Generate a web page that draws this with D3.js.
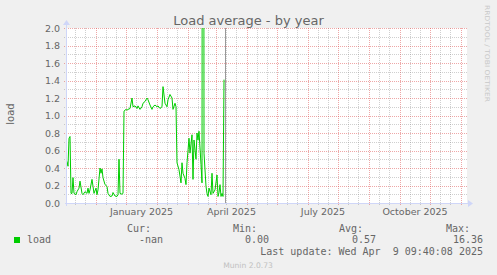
<!DOCTYPE html>
<html><head><meta charset="utf-8">
<script src="https://cdn.jsdelivr.net/npm/d3@7"></script>
<style>html,body{margin:0;padding:0;background:#F0F0F0;overflow:hidden}</style>
</head><body>
<svg id="c" width="497" height="275"></svg>
<script>
// ---------------- data ----------------
const dates = [
"2024-10-03","2024-10-04","2024-10-05","2024-10-06","2024-10-07","2024-10-08","2024-10-09","2024-10-10",
"2024-10-12","2024-10-13","2024-10-15","2024-10-16","2024-10-18","2024-10-19","2024-10-21","2024-10-23",
"2024-10-24","2024-10-25","2024-10-26","2024-10-28","2024-10-29","2024-10-30","2024-11-01","2024-11-02",
"2024-11-03","2024-11-05","2024-11-06","2024-11-07","2024-11-08","2024-11-10","2024-11-12","2024-11-13",
"2024-11-15","2024-11-17","2024-11-18","2024-11-20","2024-11-22","2024-11-23","2024-11-24","2024-11-25",
"2024-11-27","2024-11-28","2024-11-29","2024-12-01","2024-12-02","2024-12-03","2024-12-05","2024-12-07",
"2024-12-08","2024-12-10","2024-12-12","2024-12-13","2024-12-15","2024-12-17","2024-12-18","2024-12-20",
"2024-12-22","2024-12-23","2024-12-25","2024-12-27","2024-12-28","2024-12-30","2025-01-01","2025-01-02",
"2025-01-04","2025-01-06","2025-01-07","2025-01-09","2025-01-11","2025-01-12","2025-01-14","2025-01-16",
"2025-01-17","2025-01-19","2025-01-20","2025-01-21","2025-01-23","2025-01-25","2025-01-26","2025-01-27",
"2025-01-29","2025-01-30","2025-01-31","2025-02-02","2025-02-03","2025-02-05","2025-02-06","2025-02-07",
"2025-02-09","2025-02-10","2025-02-11","2025-02-12","2025-02-14","2025-02-15","2025-02-16","2025-02-17",
"2025-02-19","2025-02-20","2025-02-21","2025-02-22","2025-02-24","2025-02-25","2025-02-26","2025-02-28",
"2025-03-02","2025-03-03","2025-03-04","2025-03-05","2025-03-06","2025-03-07","2025-03-08","2025-03-09"
];
const loadValues = [
0.475,0.42,0.74,0.76,0.11,0.11,0.29,0.11,
0.095,0.13,0.17,0.25,0.11,0.095,0.13,0.11,
0.17,0.11,0.15,0.27,0.19,0.11,0.17,0.095,
0.15,0.40,0.34,0.39,0.29,0.21,0.19,0.11,
0.075,0.08,0.12,0.08,0.075,0.095,0.50,0.11,
0.10,0.11,1.05,1.07,1.06,1.07,1.08,1.20,
1.10,1.11,1.08,1.11,1.07,1.10,1.14,1.16,
1.20,1.18,1.12,1.07,1.10,1.12,1.10,1.11,
1.08,1.10,1.33,1.14,1.10,1.18,1.24,1.20,
1.07,1.14,1.10,0.46,0.38,0.23,0.46,0.34,
0.28,0.21,0.46,0.74,0.57,0.78,0.27,0.72,
0.50,0.80,0.72,0.82,0.44,0.23,16.36,0.57,
0.19,0.11,0.075,0.17,0.095,0.34,0.11,0.15,
0.32,0.075,0.12,0.21,0.075,0.11,0.075,1.41
];
const timeDomain = ["2024-10-03","2025-11-07"];
const ruleDate = ["2025-03-10T12:00"];
const yMajorTicks = [0,0.2,0.4,0.6,0.8,1.0,1.2,1.4,1.6,1.8,2.0];
const yMinorTicks = [0.1,0.3,0.5,0.7,0.9,1.1,1.3,1.5,1.7,1.9];
const xLabelMonths = ["2025-01-01","2025-04-01","2025-07-01","2025-10-01"];
const xLabels = ["January 2025","April 2025","July 2025","October 2025"];
const minorDayOffsets = [10,20];
const seriesName = "load";
const legendHeaders = ["Cur:","Min:","Avg:","Max:"];
const legendValues = ["-nan","0.00","0.57","16.36"];
const lastUpdate = "Last update: Wed Apr  9 09:40:08 2025";
const titleText = "Load average - by year";
const yTitle = "load";
const credit = "RRDTOOL / TOBI OETIKER";
const version = "Munin 2.0.73";

// ---------------- chart ----------------
const W = 497, H = 275;
const L = 67, R = 467, T = 28, B = 203;
const FONT = "#666666";
const parseD = d3.timeParse("%Y-%m-%d");
const parseDT = d3.timeParse("%Y-%m-%dT%H:%M");
const svg = d3.select("#c");
svg.append("rect").attr("width", W).attr("height", H).attr("fill", "#F0F0F0");

const x = d3.scaleTime().domain(timeDomain.map(parseD)).range([L, R]);
const y = d3.scaleLinear().domain([0, 2]).range([B, T]);

svg.append("rect").attr("x", L).attr("y", T).attr("width", R - L).attr("height", B - T).attr("fill", "#FFFFFF");

const px = v => Math.round(v) + 0.5;
const gridG = svg.append("g");
const MINOR = "rgba(140,140,140,0.42)";
const MAJOR = "rgba(222,79,79,0.5)";

// minor vertical grid
const months = d3.timeMonth.range(d3.timeMonth.floor(x.domain()[0]), x.domain()[1]);
const minorDates = [];
months.forEach(m => minorDayOffsets.forEach(o => {
  const d = d3.timeDay.offset(m, o);
  if (d > x.domain()[0] && d < x.domain()[1]) minorDates.push(d);
}));
gridG.selectAll(".vmin").data(minorDates).join("line")
  .attr("x1", d => px(x(d))).attr("x2", d => px(x(d)))
  .attr("y1", T).attr("y2", B + 3)
  .attr("stroke", MINOR).attr("stroke-width", 1).attr("stroke-dasharray", "1,1");
// minor horizontal
gridG.selectAll(".hmin").data(yMinorTicks).join("line")
  .attr("x1", L - 3).attr("x2", R + 1)
  .attr("y1", d => px(y(d))).attr("y2", d => px(y(d)))
  .attr("stroke", MINOR).attr("stroke-width", 1).attr("stroke-dasharray", "1,1");
// major vertical
const majorDates = months.filter(d => d > x.domain()[0] && d < x.domain()[1]);
gridG.selectAll(".vmaj").data(majorDates).join("line")
  .attr("x1", d => px(x(d))).attr("x2", d => px(x(d)))
  .attr("y1", T).attr("y2", B + 3)
  .attr("stroke", MAJOR).attr("stroke-width", 1).attr("stroke-dasharray", "1,1");
// major horizontal
gridG.selectAll(".hmaj").data(yMajorTicks.filter(d => d > 0)).join("line")
  .attr("x1", L - 3).attr("x2", R + 1)
  .attr("y1", d => px(y(d))).attr("y2", d => px(y(d)))
  .attr("stroke", MAJOR).attr("stroke-width", 1).attr("stroke-dasharray", "1,1");

// y tick labels
svg.append("g").selectAll("text").data(yMajorTicks).join("text")
  .attr("x", 60).attr("y", d => y(d) + 3.5)
  .attr("text-anchor", "end")
  .attr("font-family", "DejaVu Sans").attr("font-size", "9.5px").attr("fill", FONT)
  .text(d3.format(".1f"));

// x labels: centered between previous month start and the labeled month start
svg.append("g").selectAll("text").data(xLabelMonths).join("text")
  .attr("x", (d, i) => { const m = parseD(d); return (x(d3.timeMonth.offset(m, -1)) + x(m)) / 2; })
  .attr("y", 215)
  .attr("text-anchor", "middle")
  .attr("font-family", "DejaVu Sans").attr("font-size", "9.5px").attr("fill", FONT)
  .text((d, i) => xLabels[i]);

// rule
svg.append("g").selectAll("line").data(ruleDate).join("line")
  .attr("x1", d => x(parseDT(d))).attr("x2", d => x(parseDT(d)))
  .attr("y1", T).attr("y2", B)
  .attr("stroke", "#999999").attr("stroke-width", 1);

// data line
svg.append("clipPath").attr("id", "clip").append("rect")
  .attr("x", L).attr("y", T).attr("width", R - L).attr("height", B - T);
const series = dates.map((d, i) => ({ t: parseD(d), v: loadValues[i] }));
const line = d3.line().x(d => x(d.t)).y(d => y(d.v));
svg.append("path").datum(series)
  .attr("clip-path", "url(#clip)")
  .attr("d", line).attr("fill", "none")
  .attr("stroke", "#00CC00").attr("stroke-width", 1);

// axes
const AX = "#CFD6F8";
svg.append("line").attr("x1", L - 2).attr("x2", R + 2).attr("y1", B + 0.5).attr("y2", B + 0.5).attr("stroke", AX);
svg.append("line").attr("x1", L - 0.5).attr("x2", L - 0.5).attr("y1", B + 3).attr("y2", T - 4).attr("stroke", AX);
svg.append("path").attr("d", `M${R + 1},${B - 3} L${R + 6},${B + 0.5} L${R + 1},${B + 4} Z`).attr("fill", AX);
svg.append("path").attr("d", `M${L - 4},${T - 3} L${L - 0.5},${T - 8} L${L + 3},${T - 3} Z`).attr("fill", AX);

// title
svg.append("text").attr("x", 248.5).attr("y", 25).attr("text-anchor", "middle")
  .attr("font-family", "DejaVu Sans").attr("font-size", "13px").attr("fill", FONT).text(titleText);
// y title
svg.append("text").attr("transform", "translate(14,114) rotate(-90)").attr("text-anchor", "middle")
  .attr("font-family", "DejaVu Sans").attr("font-size", "10px").attr("fill", FONT).text(yTitle);
// credit
svg.append("text").attr("transform", "translate(485,5) rotate(90)")
  .attr("font-family", "DejaVu Sans").attr("font-size", "6.5px").attr("fill", "#C8C8C8")
  .attr("textLength", 97).attr("lengthAdjust", "spacingAndGlyphs").text(credit);

// legend
const mono = "DejaVu Sans Mono";
const headerX = [151, 257, 363, 470];
const valueX = [163, 269, 376, 483];
svg.append("g").selectAll("text").data(legendHeaders).join("text")
  .attr("x", (d, i) => headerX[i]).attr("y", 231.5).attr("text-anchor", "end")
  .attr("font-family", mono).attr("font-size", "10px").attr("fill", FONT).text(d => d);
svg.append("rect").attr("x", 14).attr("y", 237).attr("width", 6).attr("height", 6).attr("fill", "#00CC00");
svg.append("text").attr("x", 27).attr("y", 243).attr("font-family", mono).attr("font-size", "10px").attr("fill", FONT).text(seriesName);
svg.append("g").selectAll("text").data(legendValues).join("text")
  .attr("x", (d, i) => valueX[i]).attr("y", 243).attr("text-anchor", "end")
  .attr("font-family", mono).attr("font-size", "10px").attr("fill", FONT).text(d => d);
svg.append("text").attr("x", 483).attr("y", 254.7).attr("text-anchor", "end").style("white-space", "pre")
  .attr("font-family", mono).attr("font-size", "10px").attr("fill", FONT).text(lastUpdate);
svg.append("text").attr("x", 248).attr("y", 267.5).attr("text-anchor", "middle")
  .attr("font-family", "DejaVu Sans").attr("font-size", "7.6px").attr("fill", "#C0C0C0").text(version);
</script>
</body></html>
